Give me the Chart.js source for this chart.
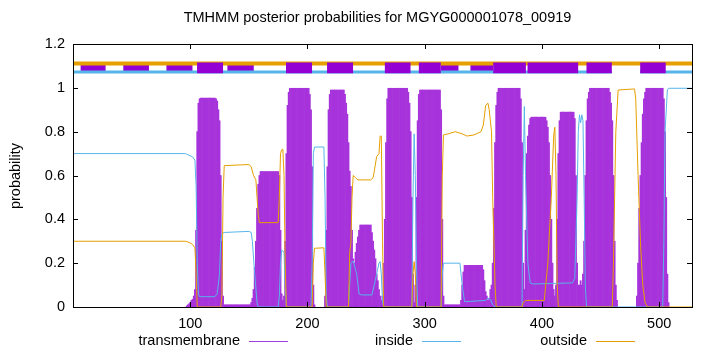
<!DOCTYPE html>
<html><head><meta charset="utf-8">
<script src="https://cdn.jsdelivr.net/npm/chart.js@4.4.0/dist/chart.umd.min.js"></script>
<style>html,body{margin:0;padding:0;background:#fff;}#wrap{width:720px;height:352px;}</style>
</head><body><div id="wrap"><canvas id="c" width="720" height="352"></canvas></div>
<script>
const chartTitle = "TMHMM posterior probabilities for MGYG000001078_00919";
const yAxisTitle = "probability";
const seqLength = 528;
const xTicks = [100, 200, 300, 400, 500];
const yTicks = [0, 0.2, 0.4, 0.6, 0.8, 1, 1.2];
const seriesNames = ["transmembrane", "inside", "outside"];

// transmembrane posterior per residue: [first residue, values...]; residues not listed are 0
const tmRunA = [97, [0.005,0.01,0.015,0.02,0.03,0.035,0.05,0.08,0.35,0.8,0.93,0.95,
  0.953,0.953,0.953,0.953,0.953,0.953,0.953,0.953,0.953,0.953,0.953,0.953,0.953,
  0.95,0.94,0.9,0.85,0.6,0.3,0.05,
  0.01,0.01,0.01,0.01,0.01,0.01,0.01,0.01,0.01,0.01,0.01,0.01,0.01,0.01,0.01,0.01,0.01,0.01,0.01,0.01,0.01,0.01,0.01,
  0.02,0.04,0.08,0.18,0.3,0.45,0.56,0.6,
  0.618,0.618,0.618,0.618,0.618,0.618,0.618,0.618,0.618,0.618,0.618,0.618,0.618,0.618,0.618,0.618,
  0.6,0.35,0.06,0.03,0.05,0.3,0.7,0.92,0.98,
  0.998,0.998,0.998,0.998,0.998,0.998,0.998,0.998,0.998,0.998,0.998,0.998,0.998,0.998,0.998,0.998,0.998,
  0.97,0.9,0.64,0.1,0.01]];
const tmRunB = [215, [0.05,0.35,0.64,0.9,0.97,
  0.99,0.99,0.99,0.99,0.99,0.99,0.99,0.99,0.99,0.99,0.99,0.99,
  0.97,0.93,0.88,0.75,0.62,0.55,0.35,0.22,0.2,0.25,0.29,0.32,0.35,
  0.374,0.374,0.374,0.374,0.374,0.374,0.374,0.374,0.374,0.374,
  0.34,0.3,0.26,0.22,0.15,0.12,0.08,0.05,0.03,0.05,0.2,0.4,0.75,0.95,
  0.998,0.998,0.998,0.998,0.998,0.998,0.998,0.998,0.998,0.998,0.998,0.998,0.998,0.998,0.998,0.998,0.998,
  0.98,0.93,0.8,0.5,0.15,0.02,0.1,0.5,0.85,0.97,
  0.99,0.99,0.99,0.99,0.99,0.99,0.99,0.99,0.99,0.99,0.99,0.99,0.99,0.99,0.99,0.99,0.99,0.99,
  0.9,0.4,0.05,
  0.01,0.01,0.01,0.01,0.01,0.01,0.01,0.01,0.01,0.01,0.01,0.01,0.01,0.01,
  0.03,0.1,0.16,
  0.19,0.19,0.19,0.19,0.19,0.19,0.19,0.19,0.19,0.19,0.19,0.19,0.19,0.19,0.19,0.19,
  0.17,0.12,0.07,0.05,0.03,0.04,0.08,0.1,0.2,0.45,0.75,0.92,0.98,
  0.998,0.998,0.998,0.998,0.998,0.998,0.998,0.998,0.998,0.998,0.998,0.998,0.998,0.998,0.998,0.998,0.998,0.998,0.998,
  0.95,0.75,0.2,0.08,0.35,0.7,0.78,0.83,0.86,
  0.866,0.866,0.866,0.866,0.866,0.866,0.866,0.866,0.866,0.866,0.866,0.866,0.866,
  0.85,0.82,0.75,0.6,0.4,0.2,0.08,0.05,0.1,0.4,0.7,0.85,
  0.889,0.889,0.889,0.889,0.889,0.889,0.889,0.889,0.889,0.889,0.889,0.889,
  0.86,0.6,0.2,0.1,0.1,0.12,0.1,0.15,0.3,0.6,0.85,0.95,0.98,
  0.998,0.998,0.998,0.998,0.998,0.998,0.998,0.998,0.998,0.998,0.998,0.998,0.998,0.998,0.998,0.998,0.998,
  0.98,0.93,0.85,0.6,0.3,0.1,0.03]];
const tmRunC = [481, [0.05,0.2,0.45,0.6,0.75,0.88,0.95,0.98,
  0.998,0.998,0.998,0.998,0.998,0.998,0.998,0.998,0.998,0.998,0.998,0.998,0.998,0.998,0.998,
  0.95,0.8,0.5,0.15,0.02]];

// inside / outside posterior curves: [residue, probability] vertices
const insidePts = [[0,0.70],[96,0.70],[98,0.695],[102,0.685],[104,0.67],[105,0.55],[106,0.2],[107,0.06],[108,0.047],
  [121,0.047],[123,0.06],[125,0.15],[126,0.3],[127,0.335],[129,0.34],[150,0.345],[152,0.34],[153,0.3],[155,0.15],
  [157,0.02],[158,0],[175,0],[176,0.05],[177,0.2],[178,0.26],[180,0.25],[181,0.1],[182,0],[203,0],[204,0.2],
  [205,0.7],[206,0.73],[214,0.73],[215,0.5],[216,0.05],[217,0],[235,0],[236,0.1],[237,0.2],[239,0.21],[242,0.15],
  [244,0.06],[246,0.055],[255,0.055],[257,0.1],[259,0.15],[261,0.2],[262,0.207],[263,0.15],[264,0.02],[265,0],
  [289,0],[290,0.5],[291,0.79],[292,0.6],[293,0.2],[294,0],[314,0],[315,0.15],[316,0.2],[330,0.2],[332,0.1],
  [334,0.024],[352,0.03],[354,0.04],[356,0.035],[358,0.01],[360,0],[383,0],[384,0.6],[385,0.915],[386,0.6],
  [388,0.2],[390,0.11],[392,0.105],[426,0.11],[428,0.13],[430,0.5],[431,0.8],[432,0.877],[433,0.84],[434,0.877],
  [435,0.85],[436,0.5],[437,0.1],[438,0],[503,0],[504,0.3],[505,0.8],[507,0.99],[508,0.998],[528,0.998]];
const outsidePts = [[0,0.30],[96,0.30],[99,0.295],[102,0.285],[104,0.27],[105,0.15],[106,0],[126,0],[127,0.05],
  [128,0.5],[129,0.645],[150,0.65],[152,0.64],[154,0.6],[156,0.58],[157,0.5],[158,0.42],[159,0.385],[175,0.385],
  [176,0.5],[177,0.7],[178,0.717],[179,0.72],[180,0.6],[181,0.2],[182,0],[204,0],[205,0.2],[206,0.268],[214,0.27],
  [215,0.15],[216,0],[235,0],[236,0.25],[237,0.29],[238,0.5],[239,0.6],[241,0.59],[243,0.58],[254,0.58],[256,0.59],
  [257,0.62],[259,0.686],[261,0.7],[262,0.78],[263,0.78],[264,0.3],[265,0],[289,0],[290,0.15],[291,0.207],[292,0.15],
  [293,0],[314,0],[315,0.6],[316,0.785],[320,0.79],[326,0.8],[332,0.79],[336,0.78],[342,0.785],[348,0.8],[350,0.83],
  [352,0.92],[354,0.93],[355,0.9],[357,0.8],[358,0.5],[360,0.1],[361,0],[383,0],[384,0.02],[386,0.03],[402,0.03],
  [405,0.2],[408,0.5],[410,0.78],[411,0.82],[412,0.6],[413,0.1],[414,0],[460,0],[461,0.2],[463,0.8],[465,0.99],
  [479,0.995],[480,0.95],[482,0.6],[484,0.3],[486,0.1],[488,0.02],[490,0],[528,0]];

// topology strip along the top
const helixBoxes = [[105.8,128],[181.7,203.9],[216.7,238.9],[266,287.9],[295,313.7],[358.4,386.3],[387.7,409.5],[409.5,430.9],[438,459.6],[483.8,505.7]];
const thinBoxes = [[6.3,27.8],[42.9,64.8],[79.7,101.9],[131.7,154.2],[313.7,328.8],[339,358.4]];
const insideStrip = [[0,459.6],[483.8,528]];
const outsideStrip = [[0,528]];
const stripLevels = {outside:1.1105, inside:1.072, boxLow:1.066, boxHigh:1.116};

const colTM = '#9400D3', colIn = '#56B4E9', colOut = '#E69F00';
const FONT = "'Liberation Sans', Arial, Helvetica, sans-serif";
const FS = 14.5;

function runsToPoints(runs){
  const pts=[];
  runs.forEach(([s,vals])=>vals.forEach((v,i)=>pts.push({x:s+i,y:v})));
  return pts;
}
function toXY(arr){return arr.map(([x,y])=>({x,y}));}
function boxPath(segs, lo, hi){
  const p=[];
  segs.forEach(([a,b])=>{p.push({x:a,y:lo},{x:a,y:hi},{x:b,y:hi},{x:b,y:lo});});
  return p;
}
function stripPath(segs, yv){
  const p=[];
  segs.forEach(([a,b],i)=>{ if(i>0) p.push({x:(segs[i-1][1]+a)/2,y:null}); p.push({x:a,y:yv},{x:b,y:yv}); });
  return p;
}

const lineBase = {type:'line', pointRadius:0, tension:0, fill:false, spanGaps:false};

const deco = {
  id:'deco',
  afterDatasetsDraw(chart){
    const {ctx, chartArea:a, scales:{x,y}} = chart;
    ctx.save();
    ctx.strokeStyle='#000'; ctx.lineWidth=1;
    ctx.beginPath();
    yTicks.forEach(v=>{const py=Math.round(y.getPixelForValue(v))+0.5;
      ctx.moveTo(a.left,py); ctx.lineTo(a.left+5,py); ctx.moveTo(a.right,py); ctx.lineTo(a.right-5,py);});
    xTicks.forEach(v=>{const px=Math.round(x.getPixelForValue(v))+0.5;
      ctx.moveTo(px,a.bottom); ctx.lineTo(px,a.bottom-5); ctx.moveTo(px,a.top); ctx.lineTo(px,a.top+5);});
    ctx.stroke();
    ctx.strokeRect(Math.round(a.left)+0.5, Math.round(a.top)+0.5, Math.round(a.right-a.left), Math.round(a.bottom-a.top));
    ctx.fillStyle='#000';
    ctx.font = FS+'px '+FONT;
    ctx.textAlign='center'; ctx.textBaseline='middle';
    ctx.fillText(chartTitle, 377.5, 18);
    ctx.save(); ctx.translate(16, 176); ctx.rotate(-Math.PI/2); ctx.fillText(yAxisTitle,0,0); ctx.restore();
    // key
    const keyCols=['#A040E0',colIn,colOut];
    const textEnds=[240,413,587];
    ctx.textAlign='right';
    seriesNames.forEach((n,i)=>{
      ctx.fillStyle='#000'; ctx.fillText(n, textEnds[i], 341);
      ctx.strokeStyle=keyCols[i]; ctx.lineWidth=1;
      ctx.beginPath(); ctx.moveTo(textEnds[i]+9,341.5); ctx.lineTo(textEnds[i]+48,341.5); ctx.stroke();
    });
    ctx.restore();
  }
};

new Chart(document.getElementById('c'), {
  data:{
    datasets:[
      {type:'bar', label:seriesNames[0], data:runsToPoints([tmRunA,tmRunB,tmRunC]), backgroundColor:'#A733DB',
        borderWidth:0, barPercentage:1, categoryPercentage:1, order:10},
      {...lineBase, label:'thin', data:boxPath(thinBoxes, stripLevels.inside, stripLevels.outside), borderWidth:0,
        backgroundColor:colTM, fill:{value:stripLevels.inside}, order:9},
      {...lineBase, label:'outStrip', data:stripPath(outsideStrip, stripLevels.outside), borderColor:colOut, borderWidth:4, order:8},
      {...lineBase, label:'inStrip', data:stripPath(insideStrip, stripLevels.inside), borderColor:colIn, borderWidth:3, order:8},
      {...lineBase, label:'helix', data:boxPath(helixBoxes, stripLevels.boxLow, stripLevels.boxHigh), borderWidth:0,
        backgroundColor:colTM, fill:{value:stripLevels.boxLow}, order:7},
      {...lineBase, label:seriesNames[1], data:toXY(insidePts), borderColor:colIn, borderWidth:1, order:2},
      {...lineBase, label:seriesNames[2], data:toXY(outsidePts), borderColor:colOut, borderWidth:1, order:1}
    ]
  },
  options:{
    responsive:false, animation:false, devicePixelRatio:1,
    layout:{padding:{top:44, right:28, left:0, bottom:0}},
    plugins:{legend:{display:false}, tooltip:{enabled:false}, title:{display:false}},
    scales:{
      x:{type:'linear', offset:false, min:0, max:seqLength, grid:{display:false, drawTicks:false, offset:false}, border:{display:false},
        afterBuildTicks:s=>{s.ticks=xTicks.map(v=>({value:v}));},
        afterFit:s=>{s.height=45;},
        ticks:{padding:8, color:'#000', font:{family:FONT,size:FS}, maxRotation:0, autoSkip:false, callback:v=>String(v)}},
      y:{type:'linear', min:0, max:1.2, grid:{display:false, drawTicks:false}, border:{display:false},
        afterBuildTicks:s=>{s.ticks=yTicks.map(v=>({value:v}));},
        afterFit:s=>{s.width=73;},
        ticks:{padding:8, color:'#000', font:{family:FONT,size:FS}, autoSkip:false, callback:v=>String(v)}}
    }
  },
  plugins:[deco]
});
</script></body></html>
